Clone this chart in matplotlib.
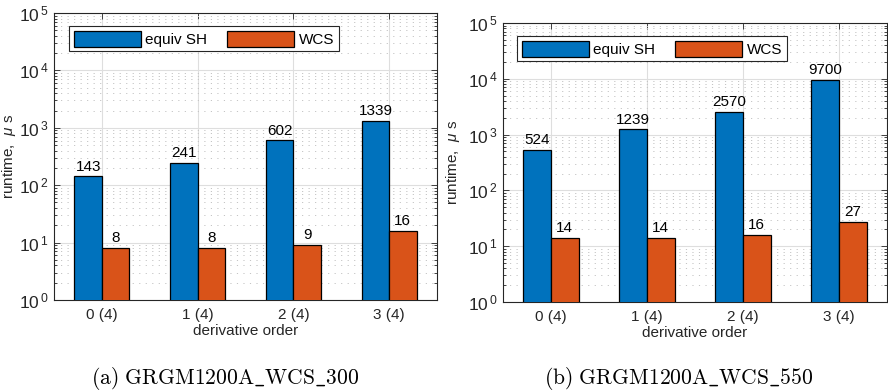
"""Runtime of equivalent spherical-harmonic synthesis vs. WCS, two grid sizes."""
import matplotlib

matplotlib.use("Agg")
import matplotlib.pyplot as plt
import numpy as np
from matplotlib.ticker import FixedLocator, LogLocator, NullFormatter

# Runtimes in microseconds per derivative order.
orders = ["0 (4)", "1 (4)", "2 (4)", "3 (4)"]
series_names = ["equiv SH", "WCS"]
sh_300 = [143, 241, 602, 1339]
wcs_300 = [8, 8, 9, 16]
sh_550 = [524, 1239, 2570, 9700]
wcs_550 = [14, 14, 16, 27]
captions = [r"(a)\ GRGM1200A\_WCS\_300", r"(b)\ GRGM1200A\_WCS\_550"]

BLUE = "#0072BD"
ORANGE = "#D95319"
AXCOL = "#262626"
FS = 11

plt.rcParams.update({
    "font.family": ["Liberation Sans", "DejaVu Sans"],
    "font.size": FS,
    "mathtext.fontset": "custom",
    "mathtext.rm": "Liberation Sans",
    "mathtext.it": "Liberation Sans:italic",
    "mathtext.default": "regular",
})


def panel(ax, sh, wcs, label_x):
    x = np.arange(1, len(orders) + 1)
    w = 0.287
    b1 = ax.bar(x - w / 2, sh, w, color=BLUE, edgecolor="black", linewidth=0.9,
                label=series_names[0], zorder=3)
    b2 = ax.bar(x + w / 2, wcs, w, color=ORANGE, edgecolor="black", linewidth=0.9,
                label=series_names[1], zorder=3)
    ax.set_yscale("log")
    ax.set_ylim(1, 1e5)
    ax.set_xlim(0.5, len(orders) + 0.5)

    for bars, vals in ((b1, sh), (b2, wcs)):
        for rect, v in zip(bars, vals):
            ax.annotate(f"{v}", (rect.get_x() + rect.get_width() / 2, v),
                        xytext=(0, 2), textcoords="offset points",
                        ha="center", va="bottom", fontsize=FS, color="black")

    ax.set_xticks(x, orders)
    ax.yaxis.set_major_locator(FixedLocator([10.0 ** k for k in range(6)]))
    ax.set_yticklabels([f"$10^{{\\,{k}}}$" for k in range(6)])
    ax.yaxis.set_minor_locator(LogLocator(base=10, subs=np.arange(2, 10)))
    ax.yaxis.set_minor_formatter(NullFormatter())

    ax.tick_params(which="both", direction="in", top=True, right=True,
                   colors=AXCOL, labelcolor=AXCOL, width=0.6)
    ax.tick_params(which="major", length=4)
    ax.tick_params(which="minor", length=2)
    ax.tick_params(axis="x", labelsize=FS, pad=6)
    ax.tick_params(axis="y", labelsize=12.5, pad=4)
    for s in ax.spines.values():
        s.set_color(AXCOL)
        s.set_linewidth(0.8)

    ax.grid(which="major", color="#dedede", linewidth=0.8, zorder=0)
    ax.grid(which="minor", axis="y", color="#c4c4c4", linewidth=0.7,
            linestyle=(0, (1.2, 5.5)), zorder=0)
    ax.set_axisbelow(True)

    ax.set_xlabel("derivative order", color=AXCOL, labelpad=1)
    ax.set_ylabel(r"runtime,  $\mathit{\mu}$ s", color=AXCOL)
    ax.yaxis.set_label_coords(label_x, 0.5)


fig = plt.figure(figsize=(8.88, 3.9), dpi=100)
ax1 = fig.add_axes([54 / 888, 90 / 390, 383 / 888, 287 / 390])
ax2 = fig.add_axes([503 / 888, 88 / 390, 384 / 888, 279 / 390])

panel(ax1, sh_300, wcs_300, -36 / 383)
panel(ax2, sh_550, wcs_550, -41 / 384)

for ax, anchor in ((ax1, (15 / 383, 1 - 13 / 287)), (ax2, (14 / 384, 1 - 13 / 279))):
    leg = ax.legend(loc="upper left", bbox_to_anchor=anchor, borderaxespad=0,
                    ncol=2, fancybox=False, framealpha=1, edgecolor=AXCOL,
                    handlelength=4.4, handleheight=1.25, handletextpad=0.3,
                    columnspacing=1.3, borderpad=0.3, fontsize=FS)
    leg.get_frame().set_linewidth(0.8)

for cap, cx in ((captions[0], 225 / 888), (captions[1], 679 / 888)):
    fig.text(cx, 1 - 378 / 390, rf"$\mathrm{{{cap}}}$", ha="center", va="center",
             fontsize=15.5, math_fontfamily="cm")

fig.savefig("out.png", dpi=100)
